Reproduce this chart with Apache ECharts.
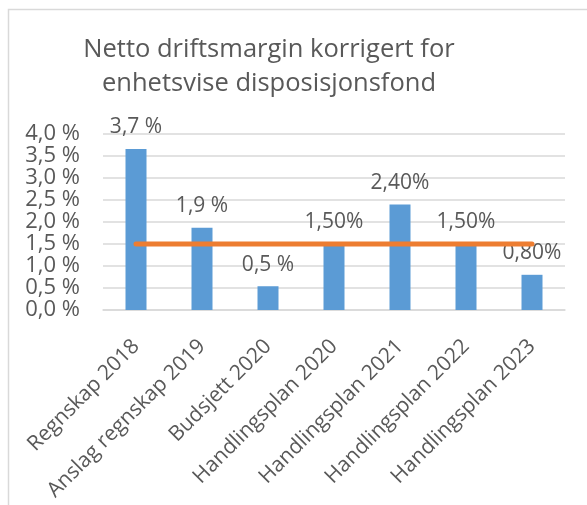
<!DOCTYPE html>
<html><head><meta charset="utf-8">
<script src="https://cdn.jsdelivr.net/npm/echarts@6/dist/echarts.min.js"></script>
<style>html,body{margin:0;padding:0;background:#fff}#c{width:587px;height:505px}</style>
</head><body><div id="c"></div>
<script>
const categories = ['Regnskap 2018','Anslag regnskap 2019','Budsjett 2020','Handlingsplan 2020','Handlingsplan 2021','Handlingsplan 2022','Handlingsplan 2023'];
const barValues = [3.66, 1.87, 0.54, 1.5, 2.4, 1.5, 0.8];
const barLabels = ['3,7 %','1,9 %','0,5 %','1,50%','2,40%','1,50%','0,80%'];
const targetValues = [1.5, 1.5, 1.5, 1.5, 1.5, 1.5, 1.5];
const yTicks = [0, 0.5, 1, 1.5, 2, 2.5, 3, 3.5, 4];

const FONT = 'Open Sans';
const TXT = '#595959';
const chart = echarts.init(document.getElementById('c'), null, {renderer:'canvas'});
chart.setOption({
  animation: false,
  textStyle: {fontFamily: FONT},
  graphic: [{
    type: 'rect', shape: {x: 8.5, y: 9.5, width: 700, height: 700},
    style: {fill: 'none', stroke: '#d9d9d9', lineWidth: 1.5}, silent: true
  }],
  title: {
    text: 'Netto driftsmargin korrigert for\nenhetsvise disposisjonsfond',
    left: 264, top: 28, textAlign: 'center',
    textStyle: {fontFamily: FONT, fontSize: 25.5, fontWeight: 'normal', color: TXT, lineHeight: 34}
  },
  grid: {left: 103, right: 22, top: 134, bottom: 195, containLabel: false},
  xAxis: {
    type: 'category', data: categories,
    axisLine: {lineStyle: {color: '#d9d9d9', width: 1.5}},
    axisTick: {show: false},
    axisLabel: {rotate: 45, interval: 0, fontSize: 21, color: TXT, fontFamily: FONT, margin: 33}
  },
  yAxis: {
    type: 'value', min: yTicks[0], max: yTicks[yTicks.length-1], interval: 0.5,
    axisLine: {show: false}, axisTick: {show: false},
    splitLine: {lineStyle: {color: '#d9d9d9', width: 1.5}},
    axisLabel: {fontSize: 22, color: TXT, fontFamily: FONT, margin: 23,
      formatter: v => v.toFixed(1).replace('.', ',') + ' %'}
  },
  series: [{
    type: 'bar', data: barValues, barWidth: 21,
    itemStyle: {color: '#5B9BD5'},
    label: {show: true, position: 'top', distance: 11, fontSize: 21, color: TXT, fontFamily: FONT,
      formatter: p => barLabels[p.dataIndex]}
  }, {
    type: 'line', data: targetValues, symbol: 'none',
    lineStyle: {color: '#ED7D31', width: 5, cap: 'round'}, z: 5
  }]
});
</script></body></html>
